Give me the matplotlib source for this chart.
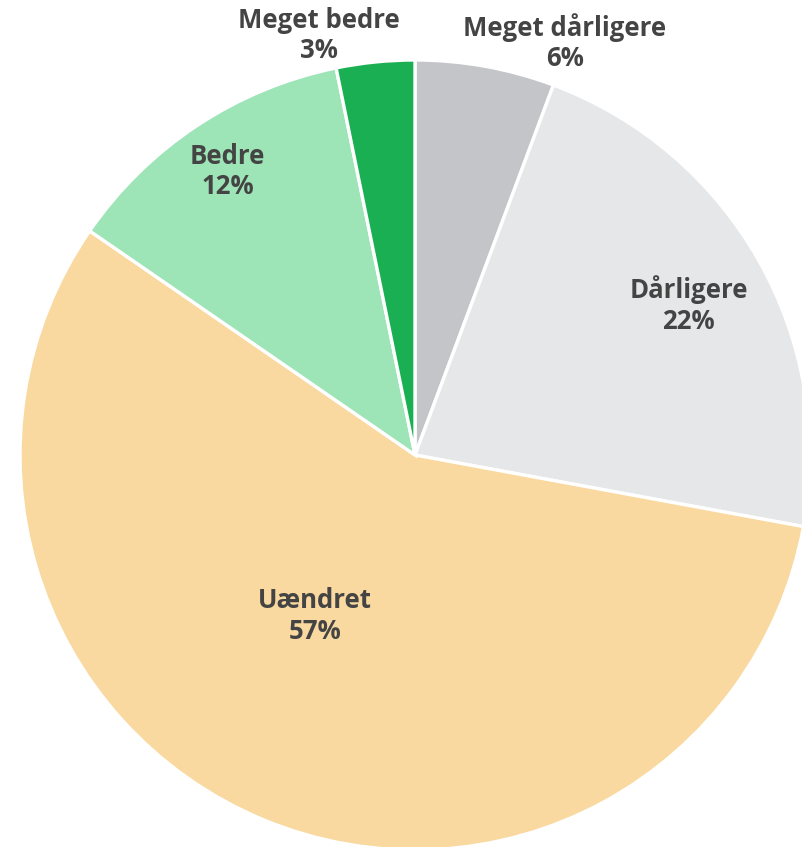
import matplotlib
matplotlib.use("Agg")
import matplotlib.pyplot as plt
import numpy as np

categories = ["Meget dårligere", "Dårligere", "Uændret", "Bedre", "Meget bedre"]
values = [5.7, 22.2, 56.7, 12.2, 3.2]
pct_labels = ["6%", "22%", "57%", "12%", "3%"]
colors = ["#c4c5c8", "#e6e7e9", "#f9d9a0", "#9de4b7", "#1aaf52"]

# label placement: (radius fraction, angle offset in degrees from wedge bisector, clockwise)
label_r = [1.11, 0.79, 0.48, 0.86, 1.09]
label_dang = [9.7, 0.8, 9.4, 0.0, -7.2]

W, H = 802, 847
fig = plt.figure(figsize=(W / 100, H / 100), dpi=100)
ax = fig.add_axes([0, 0, 1, 1])
cx, cy, R = 415, 455, 395

wedges, _ = ax.pie(values, colors=colors, startangle=90, counterclock=False,
                   radius=1.0, center=(0, 0),
                   wedgeprops=dict(edgecolor="white", linewidth=2.4))
ax.set_xlim((0 - cx) / R, (W - cx) / R)
ax.set_ylim(-(H - cy) / R, cy / R)
ax.set_aspect("equal")
ax.axis("off")

total = sum(values)
start = 0.0
for i, v in enumerate(values):
    mid = start + v / total * 360 / 2 + label_dang[i]
    start += v / total * 360
    th = np.deg2rad(90 - mid)
    x = label_r[i] * np.cos(th)
    y = label_r[i] * np.sin(th)
    ax.text(x, y, f"{categories[i]}\n{pct_labels[i]}", ha="center", va="center",
            fontsize=18.5, fontweight="bold", color="#444444",
            family=["Open Sans", "DejaVu Sans"], linespacing=1.15)

fig.savefig("out.png", dpi=100)
